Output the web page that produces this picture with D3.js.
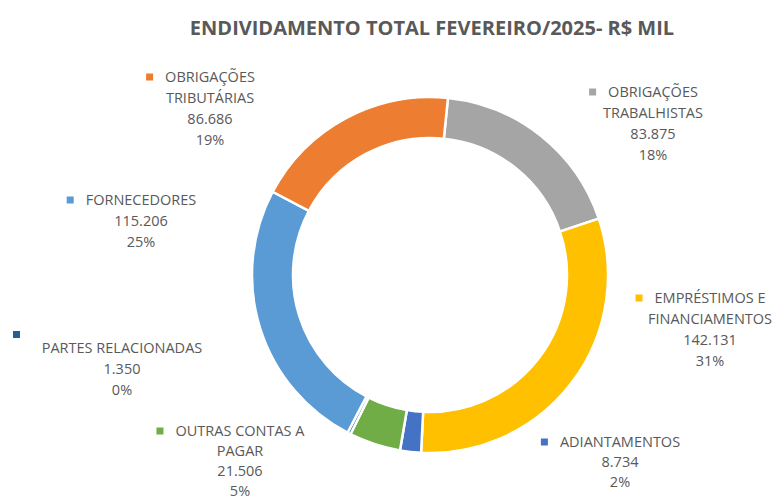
<!DOCTYPE html>
<html>
<head>
<meta charset="utf-8">
<script src="https://cdn.jsdelivr.net/npm/d3@7"></script>
<style>
  body { margin: 0; background: #fff; }
  text { font-family: "Open Sans", sans-serif; fill: #595959; }
</style>
</head>
<body>
<script>
// data, clockwise from the top
var categories = ["OBRIGAÇÕES TRABALHISTAS", "EMPRÉSTIMOS E FINANCIAMENTOS", "ADIANTAMENTOS",
                  "OUTRAS CONTAS A PAGAR", "PARTES RELACIONADAS", "FORNECEDORES", "OBRIGAÇÕES TRIBUTÁRIAS"];
var categoryLines = [["OBRIGAÇÕES", "TRABALHISTAS"], ["EMPRÉSTIMOS E", "FINANCIAMENTOS"], ["ADIANTAMENTOS"],
                     ["OUTRAS CONTAS A", "PAGAR"], ["PARTES RELACIONADAS"], ["FORNECEDORES"], ["OBRIGAÇÕES", "TRIBUTÁRIAS"]];
var values = [83875, 142131, 8734, 21506, 1350, 115206, 86686];
var colors = ["#A5A5A5", "#FFC000", "#4472C4", "#70AD47", "#255E91", "#5B9BD5", "#ED7D31"];
var title = "ENDIVIDAMENTO TOTAL FEVEREIRO/2025- R$ MIL";

// label layout (centre x, first line y)
var labelPos = [
  {cx: 653, y: 92},
  {cx: 710, y: 298},
  {cx: 620, y: 442, step: 20},
  {cx: 240, y: 431, step: 20},
  {cx: 122, y: 348, marker: [13, 331]},
  {cx: 141, y: 200},
  {cx: 210, y: 77}
];

const w = 776, h = 500,
      cx = 430, cy = 275,
      outerR = 178, innerR = 137,
      startA = 5.8 * Math.PI / 180;

const br = d3.formatLocale({decimal: ",", thousands: ".", grouping: [3], currency: ["R$", ""]});
const fmt = br.format(",d");
const total = d3.sum(values);

const svg = d3.select("body").append("svg")
  .attr("width", w)
  .attr("height", h);

svg.append("text")
  .text(title)
  .attr("x", 432)
  .attr("y", 35)
  .attr("text-anchor", "middle")
  .attr("font-weight", "bold")
  .attr("font-size", 20);

const pie = d3.pie().sort(null).startAngle(startA).endAngle(startA + 2 * Math.PI);
const arc = d3.arc().innerRadius(innerR).outerRadius(outerR);

svg.append("g")
  .attr("transform", "translate(" + cx + "," + cy + ")")
  .selectAll("path")
  .data(pie(values))
  .enter()
  .append("path")
  .attr("d", arc)
  .attr("fill", (d, i) => colors[i])
  .attr("stroke", "#fff")
  .attr("stroke-width", 2.5);

const labels = svg.append("g").attr("font-size", 14.5);

values.forEach((v, i) => {
  var p = labelPos[i],
      step = p.step || 21,
      lines = categoryLines[i].concat([fmt(v), Math.round(v / total * 100) + "%"]);
  var g = labels.append("g");
  var first;
  lines.forEach((t, j) => {
    var tx = g.append("text")
      .text(t)
      .attr("x", p.cx)
      .attr("y", p.y + j * step)
      .attr("dy", "0.36em")
      .attr("text-anchor", "middle");
    if (j == 0) first = tx;
  });
  var mx, my;
  if (p.marker) {
    mx = p.marker[0]; my = p.marker[1];
  } else {
    var tw = first.node().getComputedTextLength();
    mx = p.cx - tw / 2 - 12 - 7;
    my = p.y - 3.5;
  }
  g.append("rect")
    .attr("x", mx)
    .attr("y", my)
    .attr("width", 7)
    .attr("height", 7)
    .attr("fill", colors[i]);
});
</script>
</body>
</html>
